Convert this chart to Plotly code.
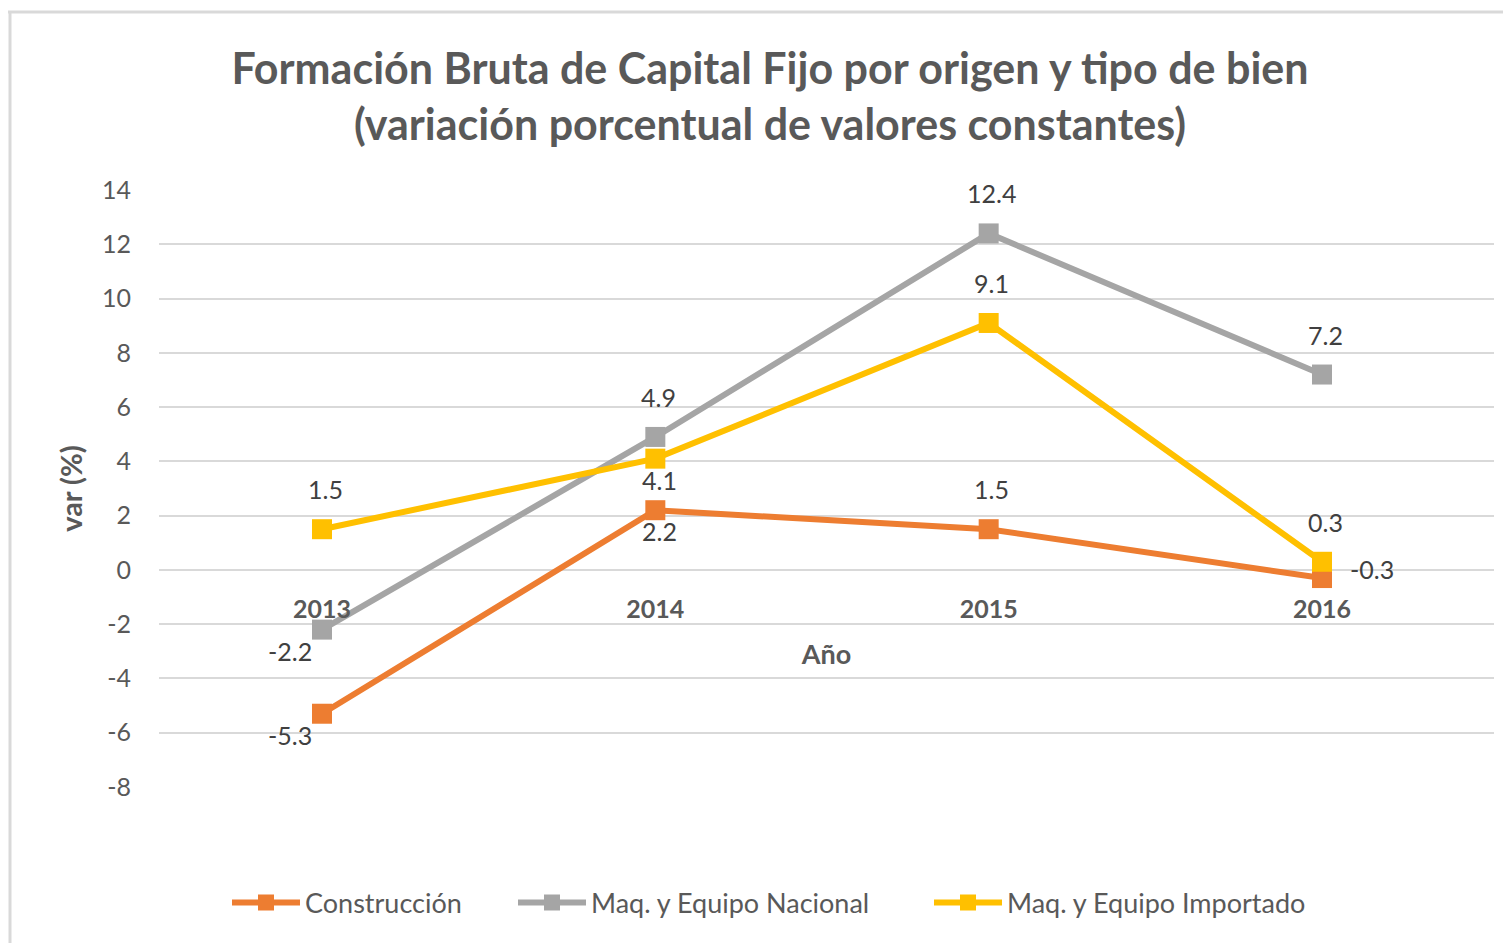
import plotly.graph_objects as go

years = ["2013", "2014", "2015", "2016"]
construccion = [-5.3, 2.2, 1.5, -0.3]
nacional = [-2.2, 4.9, 12.4, 7.2]
importado = [1.5, 4.1, 9.1, 0.3]
y_ticks = [-8, -6, -4, -2, 0, 2, 4, 6, 8, 10, 12, 14]
y_ticklabels = ["-8", "-6", "-4", "-2", "0", "2", "4", "6", "8", "10", "12", "14"]

names = ["Construcción", "Maq. y Equipo Nacional", "Maq. y Equipo Importado"]
colors = ["#ED7D31", "#A5A5A5", "#FFC000"]
label_pos = [
    ["left", "below", "above", "right"],
    ["left", "above", "above", "above"],
    ["above", "below", "above", "above"],
]
shift = {"above": (3, 40), "below": (4, -21), "left": (-32, -21), "right": (50, 9)}

FONT = "Lato"
fig = go.Figure()
annotations = []
legends = ["legend", "legend2", "legend3"]
for vals, name, col, pos, lg in zip([construccion, nacional, importado], names, colors, label_pos, legends):
    fig.add_trace(go.Scatter(
        x=years, y=vals, name=name, mode="lines+markers",
        line=dict(color=col, width=6),
        marker=dict(symbol="square", size=20, color=col),
        cliponaxis=False, legend=lg,
    ))
    for i, (yv, p) in enumerate(zip(vals, pos)):
        dx, dy = shift[p]
        annotations.append(dict(
            x=i, y=yv, xref="x", yref="y", text=f"{yv:.1f}", showarrow=False,
            xanchor="center", yanchor="middle",
            xshift=dx, yshift=dy, font=dict(family=FONT, size=25, color="#404040"),
        ))

PL, PR, PT, PB = 159, 1494, 190, 787  # target plot area in page pixels
W, H = 1503, 935  # body has 8px margin
OFF = 8
PW = PR - PL
PH = PB - PT


def px(xp):
    return (xp - PL) / PW


def py(yp):
    return (PB - yp) / PH


legend_common = dict(
    orientation="h", yanchor="middle", y=py(903), xanchor="left",
    font=dict(family=FONT, size=27, color="#595959"), itemwidth=68,
    bgcolor="rgba(0,0,0,0)",
)

fig.update_layout(
    width=W, height=H,
    margin=dict(l=PL - OFF, r=W + OFF - PR, t=PT - OFF, b=H + OFF - PB),
    paper_bgcolor="white", plot_bgcolor="white",
    font=dict(family=FONT, color="#595959"),
    title=dict(
        text="Formación Bruta de Capital Fijo por origen y tipo de bien<br>(variación porcentual de valores constantes)",
        font=dict(family=FONT, size=43, color="#595959", weight="bold"),
        x=(770 - OFF) / W, xref="container", xanchor="center",
        y=1 - (84 - OFF) / H, yref="container", yanchor="top",
    ),
    showlegend=True,
    legend=dict(legend_common, x=px(227)),
    legend2=dict(legend_common, x=px(513)),
    legend3=dict(legend_common, x=px(929)),
    xaxis=dict(
        type="category", anchor="free", position=8 / 22,
        range=[-0.489, 3.516],
        showgrid=False, showline=False, ticks="",
        tickfont=dict(family=FONT, size=25, color="#595959", weight="bold"),
        ticklabelstandoff=22,
        title=dict(text="Año", font=dict(family=FONT, size=27, color="#595959", weight="bold"), standoff=23),
    ),
    yaxis=dict(
        range=[-8, 14], tickvals=y_ticks, ticktext=y_ticklabels,
        showgrid=True, gridcolor="#D9D9D9", gridwidth=2,
        zeroline=True, zerolinecolor="#D9D9D9", zerolinewidth=2,
        showline=False, ticks="",
        tickfont=dict(family=FONT, size=25, color="#595959"),
        ticklabelstandoff=27,
        title=dict(text="var (%)", font=dict(family=FONT, size=29, color="#595959", weight="bold"), standoff=10),
    ),
    annotations=annotations,
    shapes=[
        dict(type="line", xref="paper", yref="paper", x0=px(3), x1=px(1520), y0=py(12), y1=py(12),
             line=dict(color="#D9D9D9", width=3)),
        dict(type="line", xref="paper", yref="paper", x0=px(10), x1=px(10), y0=py(12), y1=py(960),
             line=dict(color="#D9D9D9", width=3)),
    ],
)

fig.write_html("out.html")
